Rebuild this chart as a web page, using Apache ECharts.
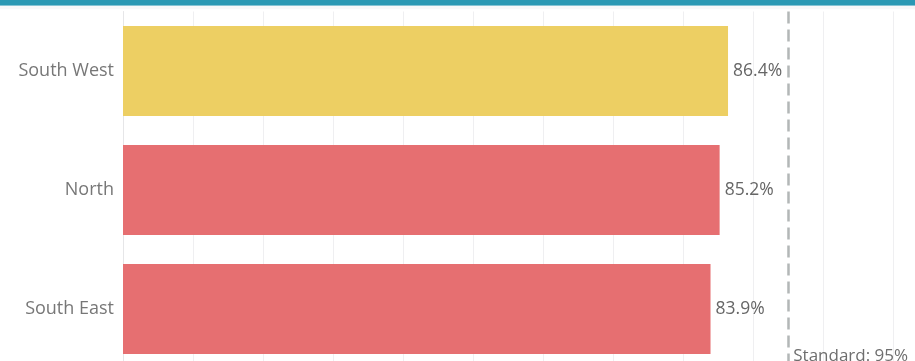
<!DOCTYPE html>
<html>
<head>
<meta charset="utf-8">
<script src="https://cdn.jsdelivr.net/npm/echarts@6/dist/echarts.min.js"></script>
<style>
  html, body { margin: 0; padding: 0; background: #ffffff; overflow: hidden; }
  #chart { width: 915px; height: 369px; }
</style>
</head>
<body>
<div id="chart"></div>
<script>
// Regional performance against the 95% standard
const regions = ['South West', 'North', 'South East'];
const values = [86.4, 85.2, 83.9];
const barColors = ['#EDCF63', '#E66F71', '#E66F71'];
const standard = 95;
const standardLabel = 'Standard: 95%';

const FONT = '"Open Sans", "Noto Sans", sans-serif';

const chart = echarts.init(document.getElementById('chart'), null, { renderer: 'canvas' });

const option = {
  animation: false,
  backgroundColor: '#ffffff',
  grid: { left: 123, right: 0, top: 11.5, bottom: 0.5, containLabel: false },
  xAxis: {
    type: 'value',
    min: 0,
    max: 113.1,
    interval: 10,
    axisLabel: { show: false },
    axisTick: { show: false },
    axisLine: { show: false },
    splitLine: { show: true, lineStyle: { color: '#efeff1', width: 1 } }
  },
  yAxis: {
    type: 'category',
    data: regions,
    inverse: true,
    axisTick: { show: false },
    axisLine: { show: true, lineStyle: { color: '#e6e6e8', width: 1 } },
    axisLabel: {
      color: '#777777',
      fontFamily: FONT,
      fontSize: 18,
      margin: 9
    }
  },
  series: [{
    type: 'bar',
    data: values.map((v, i) => ({ value: v, itemStyle: { color: barColors[i] } })),
    barCategoryGap: '24.4%',
    label: {
      show: true,
      position: 'right',
      distance: 5,
      color: '#666666',
      fontFamily: FONT,
      fontSize: 17.5,
      formatter: p => p.value.toFixed(1) + '%'
    },
    markLine: {
      silent: true,
      symbol: 'none',
      label: { show: false },
      lineStyle: { color: '#b3b7b7', width: 2.5, type: [12, 6] },
      data: [{ xAxis: standard }]
    }
  }]
};

chart.setOption(option);

// Header strip and the standard's caption beside the reference line
const stdX = chart.convertToPixel({ xAxisIndex: 0 }, standard);
chart.setOption({
  graphic: [
    { type: 'rect', left: 0, top: 0, shape: { width: 915, height: 5.7 }, style: { fill: '#2A98B4' }, z: 10 },
    { type: 'rect', left: 0, top: 5.7, shape: { width: 915, height: 3.5 }, style: { fill: '#f7f7f9' }, z: 10 },
    {
      type: 'text',
      x: stdX + 5,
      y: 365,
      style: {
        text: standardLabel,
        fill: '#6e6e6e',
        font: '17px ' + FONT,
        textAlign: 'left',
        textVerticalAlign: 'bottom'
      },
      z: 10
    }
  ]
});
</script>
</body>
</html>
